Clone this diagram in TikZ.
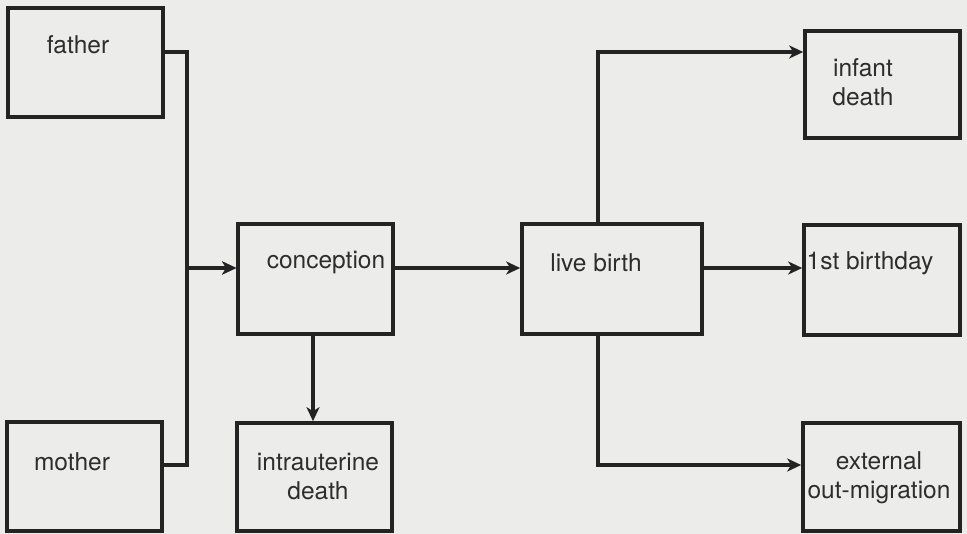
\documentclass[tikz,border=0pt]{standalone}
\usepackage{fontspec}
\setmainfont{TeX Gyre Heros}
\usetikzlibrary{arrows.meta}
\definecolor{paper}{RGB}{236,236,235}
\definecolor{ink}{RGB}{35,35,35}
\definecolor{textink}{RGB}{45,45,45}
\begin{document}
\begin{tikzpicture}[x=1pt,y=-1pt,
  box/.style={draw=ink, line width=3.6pt, rectangle, inner sep=0pt},
  lbl/.style={text=textink, font=\fontsize{24.5}{29}\selectfont, align=center, inner sep=0pt},
  conn/.style={draw=ink, line width=3.2pt, -{Stealth[length=14pt,width=13pt,inset=4pt]}},
  plain/.style={draw=ink, line width=3.2pt}]
\fill[paper] (0,0) rectangle (967,534);
\useasboundingbox (0,0) rectangle (967,534);
% boxes
\node[box, minimum width=155pt, minimum height=109pt] (father) at (85.5,62.5) {};
\node[box, minimum width=155pt, minimum height=109pt] (mother) at (84.5,476.5) {};
\node[box, minimum width=155pt, minimum height=110pt] (conception) at (315.5,279) {};
\node[box, minimum width=180pt, minimum height=110pt] (livebirth) at (612,279) {};
\node[box, minimum width=156pt, minimum height=110pt] (birthday) at (882,280) {};
\node[box, minimum width=155pt, minimum height=107pt] (infant) at (882.5,84.5) {};
\node[box, minimum width=155pt, minimum height=108pt] (intra) at (314.5,477) {};
\node[box, minimum width=157pt, minimum height=108pt] (external) at (881.5,477) {};
% labels
\node[lbl] (tfather) at (78,45) {father};
\node[lbl] (tmother) at (72,462) {mother};
\node[lbl] (tconception) at (326,263) {conception};
\node[lbl] (tlivebirth) at (596,263) {live birth};
\node[lbl] (tbirthday) at (870,263) {1st birthday};
\node[lbl] (tinfant) at (863,82.5) {infant\\death};
\node[lbl] (tintra) at (318,477) {intrauterine\\death};
\node[lbl] (texternal) at (879,477.5) {external\\out-migration};
% helper coordinates
\coordinate (topRow) at (0,52);
\coordinate (midRow) at (0,268);
\coordinate (botRow) at (0,465);
\coordinate (colA) at (187,0);
\coordinate (colB) at (598,0);
% connectors
\draw[conn] (father.east |- topRow) -| (colA |- midRow) -- (conception.west |- midRow);
\draw[conn] (mother.east |- botRow) -| (colA |- midRow) -- (conception.west |- midRow);
\draw[conn] (conception.east |- midRow) -- (livebirth.west |- midRow);
\draw[conn] (livebirth.east |- midRow) -- (birthday.west |- midRow);
\draw[conn] (livebirth.north -| colB) |- (infant.west |- topRow);
\draw[conn] (livebirth.south -| colB) |- (external.west |- botRow);
\draw[conn] (conception.south -| 313,0) -- (intra.north -| 313,0);
\end{tikzpicture}
\end{document}
